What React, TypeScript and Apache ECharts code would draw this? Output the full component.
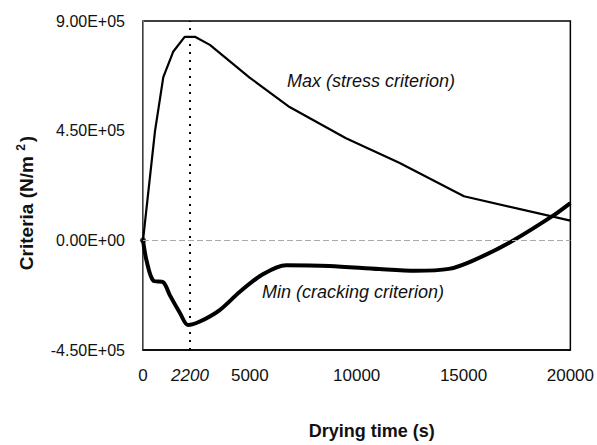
import React, { useEffect, useRef } from "react";
import * as echarts from "echarts";

const maxX = [0, 560, 950, 1420, 1950, 2430, 3130, 4990, 6860, 9500, 11990, 15020, 20000];
const maxV = [0, 447000, 670000, 775000, 835000, 835000, 802000, 668000, 547000, 419000, 318000, 181000, 81000];

const minX = [0, 170, 480, 950, 1260, 1730, 2100, 2660, 3590, 4520, 5610, 6700, 8720, 11050, 12760, 14320, 15390, 17120, 19120, 20000];
const minV = [0, -85000, -165000, -172000, -226000, -298000, -347000, -333000, -286000, -212000, -139000, -102000, -105000, -118000, -125000, -117000, -85000, -11000, 97000, 153000];

const xTickValues = [0, 2200, 5000, 10000, 15000, 20000];
const yTickLabels: Record<string, string> = {
  "-450000": "-4.50E+05",
  "0": "0.00E+00",
  "450000": "4.50E+05",
  "900000": "9.00E+05",
};
const markTime = 2200;
const maxLabel = "Max (stress criterion)";
const minLabel = "Min (cracking criterion)";
const yTitle = "Criteria (N/m {sup|2})";
const xTitle = "Drying time (s)";

const FONT = "Liberation Sans, Arial, sans-serif";

export default function App() {
  const ref = useRef<HTMLDivElement>(null);
  useEffect(() => {
    document.body.style.margin = "0";
    const chart = echarts.init(ref.current!, null, { renderer: "svg" });
    const option: any = {
      animation: false,
      backgroundColor: "#fff",
      grid: {
        left: 143,
        right: 25,
        top: 21,
        bottom: 89,
        show: true,
        borderColor: "#000",
        borderWidth: 1.5,
      },
      xAxis: {
        type: "value",
        min: 0,
        max: 20000,
        splitLine: { show: false },
        axisTick: { show: false },
        axisLine: { show: true, onZero: false, lineStyle: { color: "#000", width: 1.5 } },
        axisLabel: {
          customValues: xTickValues,
          margin: 17,
          fontFamily: FONT,
          fontSize: 17,
          color: "#111",
          formatter: (v: number) => (v === markTime ? "{it|" + v + "}" : String(v)),
          rich: { it: { fontStyle: "italic", fontFamily: FONT, fontSize: 17, color: "#111" } },
        },
        name: xTitle,
        nameLocation: "middle",
        nameGap: 72,
        nameTextStyle: {
          fontFamily: FONT,
          fontWeight: "bold",
          fontSize: 18,
          color: "#111",
          padding: [0, 0, 0, 30],
        },
      },
      yAxis: {
        type: "value",
        min: -450000,
        max: 900000,
        interval: 450000,
        splitLine: { show: false },
        axisTick: { show: false },
        axisLine: { show: true, lineStyle: { color: "#888", width: 1 } },
        axisLabel: {
          margin: 18,
          fontFamily: FONT,
          fontSize: 16,
          color: "#111",
          formatter: (v: number) => yTickLabels[String(v)] ?? "",
        },
      },
      series: [
        {
          type: "line",
          data: maxX.map((x, i) => [x, maxV[i]]),
          showSymbol: false,
          lineStyle: { color: "#000", width: 2.2 },
          markLine: {
            silent: true,
            symbol: "none",
            label: { show: false },
            data: [
              { xAxis: markTime, lineStyle: { color: "#000", type: [2, 6], width: 2 } },
              { yAxis: 0, lineStyle: { color: "#aaa", type: [6, 3], width: 1 } },
            ],
          },
        },
        {
          type: "line",
          data: minX.map((x, i) => [x, minV[i]]),
          showSymbol: false,
          smooth: 0.3,
          lineStyle: { color: "#000", width: 4 },
        },
        {
          type: "scatter",
          data: [[0, 0]],
          symbolSize: 6,
          itemStyle: { color: "#000" },
        },
      ],
      graphic: [
        {
          type: "text",
          left: 287,
          top: 72,
          style: { text: maxLabel, fontFamily: FONT, fontStyle: "italic", fontSize: 18, fill: "#111" },
        },
        {
          type: "text",
          left: 262,
          top: 283,
          style: { text: minLabel, fontFamily: FONT, fontStyle: "italic", fontSize: 18, fill: "#111" },
        },
        {
          type: "text",
          x: 26,
          y: 203,
          rotation: Math.PI / 2,
          style: {
            text: yTitle,
            fontFamily: FONT,
            fontWeight: "bold",
            fontSize: 19,
            fill: "#111",
            align: "center",
            verticalAlign: "middle",
            rich: {
              sup: {
                fontFamily: FONT,
                fontWeight: "bold",
                fontSize: 12,
                fill: "#111",
                verticalAlign: "top",
                padding: [0, 2, 10, 0],
              },
            },
          },
        },
      ],
    };
    chart.setOption(option);
    return () => chart.dispose();
  }, []);
  return <div ref={ref} style={{ width: 597, height: 445, position: "absolute", left: 0, top: 0 }} />;
}
